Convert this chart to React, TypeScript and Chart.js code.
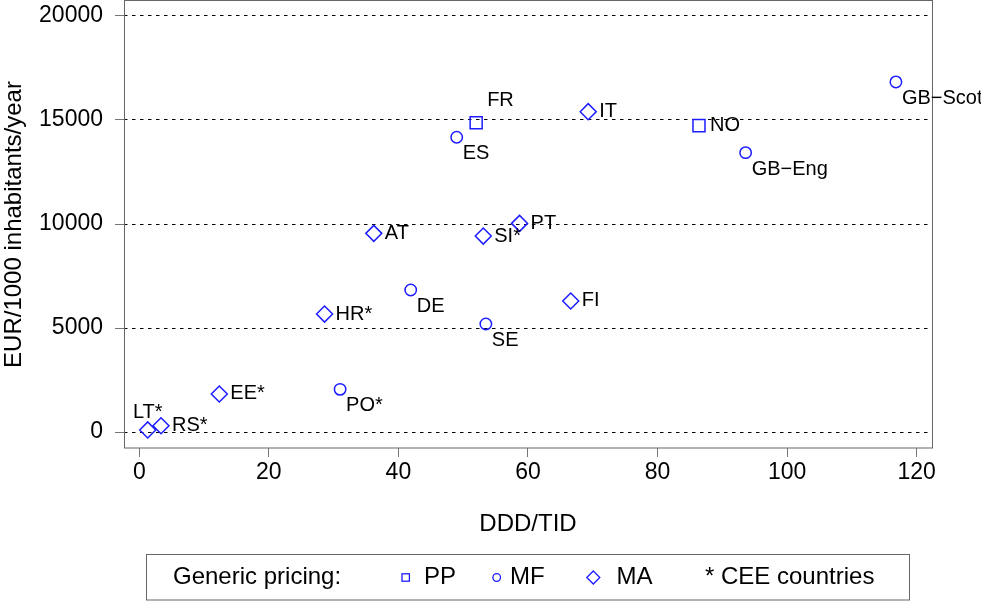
import { useEffect, useRef } from 'react';
import { Chart, registerables } from 'chart.js';

Chart.register(...registerables);

const FONT = '"Liberation Sans", Arial, Helvetica, sans-serif';
const BLUE = 'rgb(28,28,255)';

// generic pricing groups
const seriesNames = ['PP', 'MF', 'MA'];

// PP: price-linked
const ppLabels = ['FR', 'NO'];
const ppX = [52.0, 86.4];
const ppY = [14870, 14730];

// MF: market forces
const mfLabels = ['ES', 'GB\u2212Scot', 'GB\u2212Eng', 'DE', 'SE', 'PO*'];
const mfX = [49.0, 116.8, 93.6, 41.9, 53.5, 31.0];
const mfY = [14170, 16830, 13430, 6830, 5190, 2050];

// MA: mixed approach
const maLabels = ['IT', 'AT', 'SI*', 'PT', 'HR*', 'FI', 'EE*', 'LT*', 'RS*'];
const maX = [69.3, 36.2, 53.1, 58.7, 28.6, 66.6, 12.35, 1.3, 3.35];
const maY = [15400, 9550, 9420, 10030, 5670, 6300, 1830, 100, 300];

// label clock positions (Stata style)
const ppPos = [1, 3];
const mfPos = [5, 5, 5, 5, 5, 5];
const maPos = [3, 3, 3, 3, 3, 3, 3, 12, 3];

const xTicks = [0, 20, 40, 60, 80, 100, 120];
const yTicks = [0, 5000, 10000, 15000, 20000];
const xMin = -2.36, xMax = 122.37;
const yMin = -769, yMax = 20721;

const groupLabels = [ppLabels, mfLabels, maLabels];
const groupPos = [ppPos, mfPos, maPos];

function pts(xs: number[], ys: number[]) {
  return xs.map((x, i) => ({ x, y: ys[i] }));
}

const boxPlugin = {
  id: 'plotBox',
  beforeDatasetsDraw(chart: any) {
    const { ctx, chartArea: a } = chart;
    ctx.save();
    ctx.strokeStyle = '#666';
    ctx.lineWidth = 1;
    ctx.strokeRect(a.left + 0.5, a.top - 0.5, a.right - a.left, a.bottom - a.top + 0.5);
    ctx.restore();
  },
};

const labelPlugin = {
  id: 'pointLabels',
  afterDatasetsDraw(chart: any) {
    const { ctx } = chart;
    ctx.save();
    ctx.fillStyle = '#000';
    ctx.font = `20px ${FONT}`;
    ctx.textBaseline = 'middle';
    groupLabels.forEach((labels, d) => {
      const meta = chart.getDatasetMeta(d);
      meta.data.forEach((el: any, i: number) => {
        const pos = groupPos[d][i];
        let dx = 11, dy = 0, align: CanvasTextAlign = 'left';
        if (pos === 5) { dx = 6; dy = 16.5; }
        else if (pos === 1) { dx = 11; dy = -22; }
        else if (pos === 12) { dx = 0; dy = -17; align = 'center'; }
        ctx.textAlign = align;
        ctx.fillText(labels[i], el.x + dx, el.y + dy);
      });
    });
    ctx.restore();
  },
};

const legendPlugin = {
  id: 'bottomLegend',
  afterDraw(chart: any) {
    const { ctx } = chart;
    const cy = 577.5;
    ctx.save();
    ctx.strokeStyle = '#666';
    ctx.lineWidth = 1;
    ctx.strokeRect(146.5, 554.5, 763, 45.5);
    ctx.fillStyle = '#000';
    ctx.font = `24px ${FONT}`;
    ctx.textBaseline = 'middle';
    ctx.textAlign = 'left';
    ctx.fillText('Generic pricing:', 173, cy);
    ctx.strokeStyle = BLUE;
    ctx.lineWidth = 1.3;
    // square
    ctx.strokeRect(405.7 - 3.7, cy - 3.7, 7.4, 7.4);
    // circle
    ctx.beginPath();
    ctx.arc(496.7, cy, 3.8, 0, Math.PI * 2);
    ctx.stroke();
    // diamond
    ctx.beginPath();
    ctx.moveTo(593.3, cy - 6.5);
    ctx.lineTo(593.3 + 6.5, cy);
    ctx.lineTo(593.3, cy + 6.5);
    ctx.lineTo(593.3 - 6.5, cy);
    ctx.closePath();
    ctx.stroke();
    ctx.fillText(seriesNames[0], 424, cy);
    ctx.fillText(seriesNames[1], 510, cy);
    ctx.fillText(seriesNames[2], 616.5, cy);
    ctx.fillText('* CEE countries', 705, cy);
    ctx.restore();
  },
};

export default function App() {
  const canvasRef = useRef<HTMLCanvasElement | null>(null);
  const chartRef = useRef<Chart | null>(null);

  useEffect(() => {
    document.body.style.margin = '0';
    const canvas = canvasRef.current;
    if (!canvas) return;
    const ctx = canvas.getContext('2d');
    if (!ctx) return;

    const ds = (data: any[], style: string, r: number) => ({
      data,
      pointStyle: style,
      pointRadius: r,
      pointBorderWidth: 1.5,
      pointBorderColor: BLUE,
      pointBackgroundColor: 'rgba(0,0,0,0)',
      showLine: false,
    });

    chartRef.current = new Chart(ctx, {
      type: 'scatter',
      data: {
        datasets: [
          { label: seriesNames[0], ...ds(pts(ppX, ppY), 'rect', 8.5) },
          { label: seriesNames[1], ...ds(pts(mfX, mfY), 'circle', 5.7) },
          { label: seriesNames[2], ...ds(pts(maX, maY), 'rectRot', 8) },
        ] as any,
      },
      options: {
        animation: false,
        responsive: true,
        maintainAspectRatio: false,
        layout: { autoPadding: false, padding: { left: 0, top: 1, right: 49, bottom: 65 } },
        plugins: { legend: { display: false }, tooltip: { enabled: false } },
        scales: {
          x: {
            type: 'linear',
            min: xMin,
            max: xMax,
            afterBuildTicks: (s: any) => { s.ticks = xTicks.map((v) => ({ value: v })); },
            afterFit: (s: any) => { s.height = 100; s.paddingLeft = 0; s.paddingRight = 0; },
            grid: { drawOnChartArea: false, drawTicks: true, tickLength: 9, tickColor: '#777', tickWidth: 1 },
            border: { display: false },
            ticks: { color: '#000', font: { family: FONT, size: 23 }, padding: 2, maxRotation: 0, autoSkip: false, callback: (v: any) => String(v) },
            title: { display: true, text: 'DDD/TID', color: '#000', font: { family: FONT, size: 24 }, padding: { top: 0, bottom: 9 } },
          },
          y: {
            type: 'linear',
            min: yMin,
            max: yMax,
            afterBuildTicks: (s: any) => { s.ticks = yTicks.map((v) => ({ value: v })); },
            afterFit: (s: any) => { s.width = 124; s.paddingTop = 0; s.paddingBottom = 0; },
            grid: { color: '#000', lineWidth: 1, tickLength: 9, tickColor: '#777', tickWidth: 1, tickBorderDash: [] },
            border: { display: false, dash: [3.5, 4.5] },
            ticks: { color: '#000', font: { family: FONT, size: 23 }, padding: 12, callback: (v: any) => String(v) },
            title: { display: true, text: 'EUR/1000 inhabitants/year', color: '#000', font: { family: FONT, size: 24 }, padding: { top: 0, bottom: 0 } },
          },
        },
      } as any,
      plugins: [boxPlugin, labelPlugin, legendPlugin],
    });

    return () => {
      chartRef.current?.destroy();
      chartRef.current = null;
    };
  }, []);

  return (
    <div style={{ position: 'relative', width: 981, height: 613, background: '#fff' }}>
      <canvas ref={canvasRef} />
    </div>
  );
}
